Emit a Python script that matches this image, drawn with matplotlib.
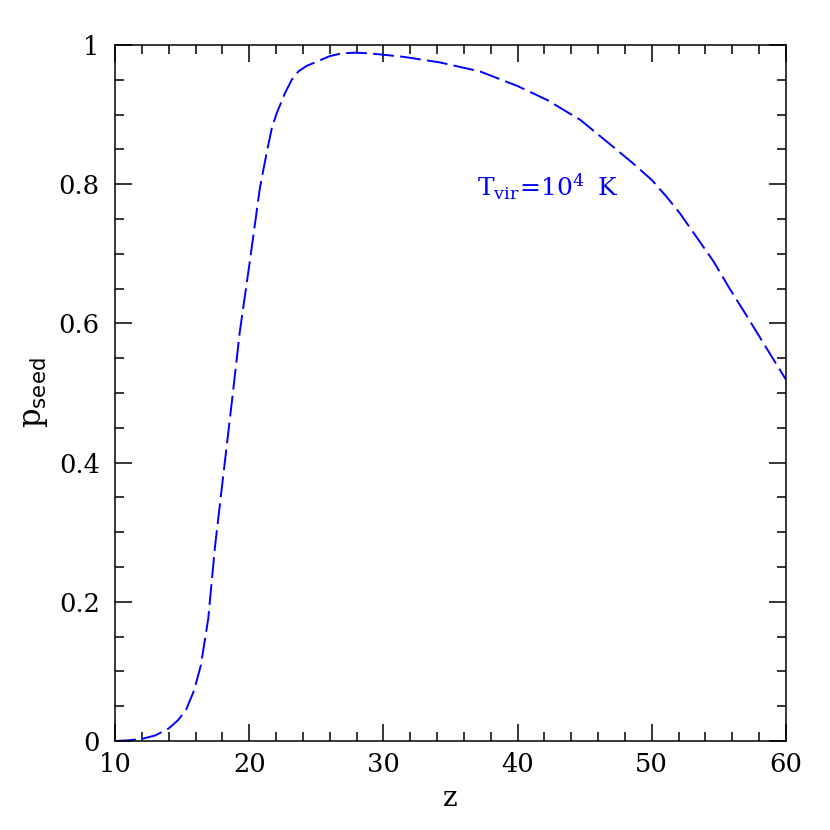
import matplotlib
matplotlib.use("Agg")
import matplotlib.pyplot as plt
from matplotlib.ticker import MultipleLocator, FixedFormatter, FixedLocator

plt.rcParams['font.family'] = ['DejaVu Serif']
plt.rcParams['mathtext.fontset'] = 'custom'
plt.rcParams['mathtext.rm'] = 'DejaVu Serif'
plt.rcParams['mathtext.it'] = 'DejaVu Serif'
plt.rcParams['mathtext.sf'] = 'DejaVu Sans'
plt.rcParams['lines.scale_dashes'] = False

# data
z = [10, 11, 12, 13, 14, 14.7, 15.3, 15.9, 16.4, 16.95, 17.45, 18.07, 18.7,
     19.3, 20.06, 20.8, 21.3, 21.68, 22.05, 22.67, 23.17, 23.66, 24.28, 25.03,
     26.0, 26.9, 27.9, 28.9, 30.0, 31.5, 34.2, 37.2, 40.0, 42.2, 44.7, 45.9,
     47.1, 48.6, 50.0, 51.1, 52.1, 53.3, 54.6, 55.8, 57.1, 58.56, 60.0]
p_seed = [0.0, 0.001, 0.003, 0.008, 0.018, 0.03, 0.045, 0.073, 0.109, 0.176,
          0.279, 0.382, 0.486, 0.588, 0.691, 0.795, 0.845, 0.880, 0.902, 0.931,
          0.950, 0.962, 0.970, 0.976, 0.984, 0.988, 0.989, 0.988, 0.986, 0.983,
          0.975, 0.962, 0.941, 0.921, 0.892, 0.873, 0.854, 0.830, 0.806, 0.782,
          0.758, 0.725, 0.689, 0.650, 0.610, 0.564, 0.519]
x_ticks = [10, 20, 30, 40, 50, 60]
x_ticklabels = ['10', '20', '30', '40', '50', '60']
y_ticks = [0, 0.2, 0.4, 0.6, 0.8, 1.0]
y_ticklabels = ['0', '0.2', '0.4', '0.6', '0.8', '1']

fig = plt.figure(figsize=(8.3, 8.3), dpi=100)
ax = fig.add_axes([115/830, 89/830, 671/830, 696/830])

ax.plot(z, p_seed, color='blue', lw=1.4, dashes=(15, 4.5))

ax.set_xlim(10, 60)
ax.set_ylim(0, 1)
ax.xaxis.set_major_locator(FixedLocator(x_ticks))
ax.xaxis.set_major_formatter(FixedFormatter(x_ticklabels))
ax.yaxis.set_major_locator(FixedLocator(y_ticks))
ax.yaxis.set_major_formatter(FixedFormatter(y_ticklabels))
ax.xaxis.set_minor_locator(MultipleLocator(2))
ax.yaxis.set_minor_locator(MultipleLocator(0.05))
ax.tick_params(which='both', direction='in', top=True, right=True,
               width=1.1, labelsize=18.5, color='black')
ax.tick_params(which='major', length=12)
ax.tick_params(which='minor', length=6.5)
ax.tick_params(axis='x', which='major', pad=8)
ax.tick_params(axis='y', which='major', pad=11)
for s in ax.spines.values():
    s.set_linewidth(1.1)

ax.set_xlabel('z', fontsize=20, labelpad=6)
ax.set_ylabel(r'$\mathregular{p_{\mathsf{seed}}}$', fontsize=22, labelpad=6)

ax.text(42.3, 0.796, r'$\mathregular{T_{vir}\!=\!10^4\;\;K}$', color='blue',
        fontsize=18, ha='center', va='center')

fig.savefig('out.png', dpi=100)
